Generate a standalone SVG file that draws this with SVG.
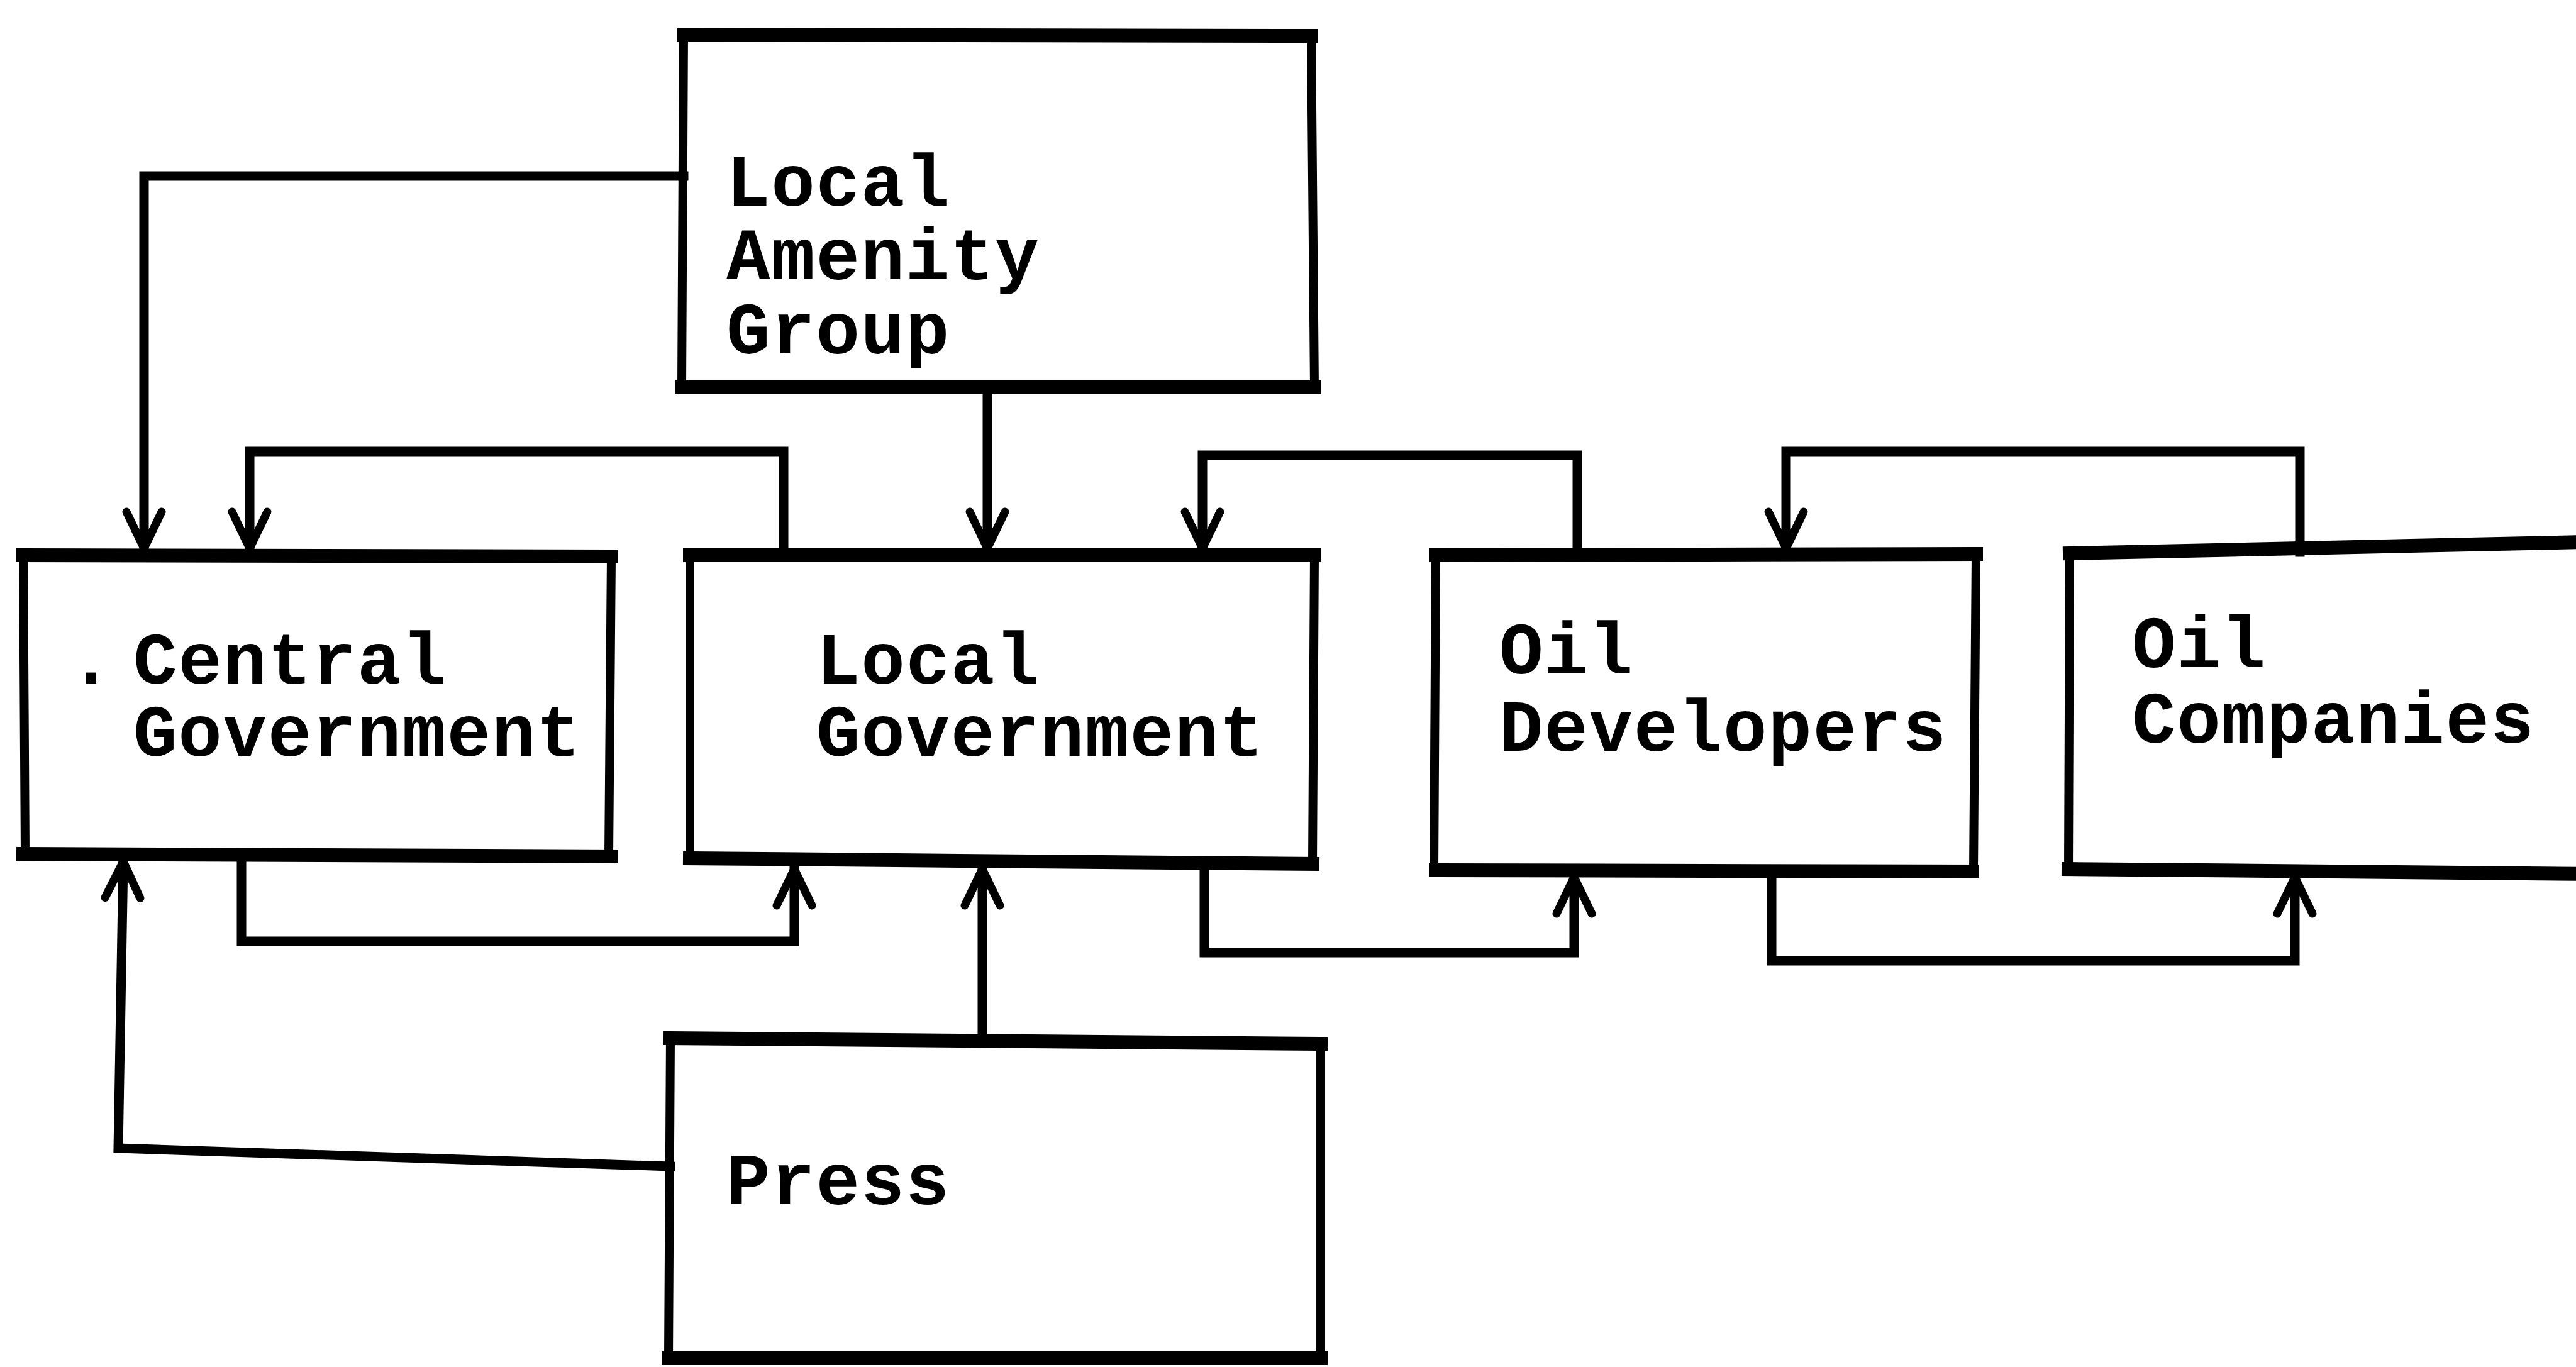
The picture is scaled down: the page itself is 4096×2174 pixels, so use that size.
<svg xmlns="http://www.w3.org/2000/svg" width="4096" height="2174" viewBox="0 0 4096 2174">
<style>
  .bg { fill: #ffffff; }
  .tb { fill: none; stroke: #000; stroke-width: 22; stroke-linecap: square; }
  .side { fill: none; stroke: #000; stroke-width: 14; stroke-linecap: square; }
  .conn { fill: none; stroke: #000; stroke-width: 15; stroke-linejoin: miter; stroke-linecap: square; }
  .lbl { font-family: "Liberation Mono", "Courier New", monospace; font-size: 116px; letter-spacing: 1.6px; font-weight: bold; fill: #000; }
</style>
<defs>
  <marker id="arr" markerUnits="userSpaceOnUse" orient="auto" markerWidth="10" markerHeight="10" refX="0" refY="0" overflow="visible">
    <path d="M -58 -28 L 0 0 L -58 28" fill="none" stroke="#000" stroke-width="13" stroke-linecap="round" stroke-linejoin="miter"/>
  </marker>
</defs>
<rect class="bg" x="0" y="0" width="4096" height="2174"/>

<g id="connectors">
  <path class="conn" d="M 1087 280 L 229 280 L 229 872" marker-end="url(#arr)"/>
  <path class="conn" d="M 1246 883 L 1246 718 L 397 718 L 397 872" marker-end="url(#arr)"/>
  <path class="conn" d="M 1570 616 L 1570 872" marker-end="url(#arr)"/>
  <path class="conn" d="M 2508 883 L 2508 724 L 1912 724 L 1912 872" marker-end="url(#arr)"/>
  <path class="conn" d="M 3657 878 L 3657 718 L 2840 718 L 2840 872" marker-end="url(#arr)"/>
  <path class="conn" d="M 384 1358 L 384 1497 L 1263 1497 L 1263 1382" marker-end="url(#arr)"/>
  <path class="conn" d="M 1915 1371 L 1915 1515 L 2503 1515 L 2503 1395" marker-end="url(#arr)"/>
  <path class="conn" d="M 2817 1384 L 2817 1528 L 3649 1528 L 3649 1395" marker-end="url(#arr)"/>
  <path class="conn" d="M 1066 1855 L 188 1826 L 196 1370" marker-end="url(#arr)"/>
  <path class="conn" d="M 1562 1651 L 1562 1382" marker-end="url(#arr)"/>
</g>

<g id="local-amenity-group">
  <path class="tb" d="M 1087 55 L 2085 57 M 1084 616 L 2090 616"/>
  <path class="side" d="M 1087 55 L 1084 616 M 2085 57 L 2090 616"/>
  <text class="lbl" x="1155" y="327"><tspan x="1155" y="327">Local</tspan><tspan x="1155" y="444">Amenity</tspan><tspan x="1155" y="562">Group</tspan></text>
</g>

<g id="central-government">
  <path class="tb" d="M 37 883 L 972 885 M 37 1358 L 972 1362"/>
  <path class="side" d="M 37 883 L 40 1358 M 972 885 L 968 1362"/>
  <text class="lbl" x="110" y="1087">.</text>
  <text class="lbl" x="212" y="1087"><tspan x="212" y="1087">Central</tspan><tspan x="212" y="1202">Government</tspan></text>
</g>

<g id="local-government">
  <path class="tb" d="M 1097 883 L 2090 883 M 1097 1365 L 2087 1374"/>
  <path class="side" d="M 1097 883 L 1097 1365 M 2090 883 L 2087 1374"/>
  <text class="lbl" x="1298" y="1087"><tspan x="1298" y="1087">Local</tspan><tspan x="1298" y="1202">Government</tspan></text>
</g>

<g id="oil-developers">
  <path class="tb" d="M 2283 883 L 3142 881 M 2283 1384 L 3135 1386"/>
  <path class="side" d="M 2283 883 L 2280 1384 M 3142 881 L 3138 1386"/>
  <text class="lbl" x="2384" y="1071"><tspan x="2384" y="1071">Oil</tspan><tspan x="2384" y="1194">Developers</tspan></text>
</g>

<g id="oil-companies">
  <path class="tb" d="M 3291 880 L 4110 862 M 3289 1382 L 4110 1390"/>
  <path class="side" d="M 3291 880 L 3289 1382"/>
  <text class="lbl" x="3390" y="1061"><tspan x="3390" y="1061">Oil</tspan><tspan x="3390" y="1181">Companies</tspan></text>
</g>

<g id="press">
  <path class="tb" d="M 1066 1651 L 2100 1660 M 1063 2160 L 2100 2160"/>
  <path class="side" d="M 1066 1651 L 1063 2160 M 2100 1660 L 2100 2160"/>
  <text class="lbl" x="1155" y="1915">Press</text>
</g>
</svg>
